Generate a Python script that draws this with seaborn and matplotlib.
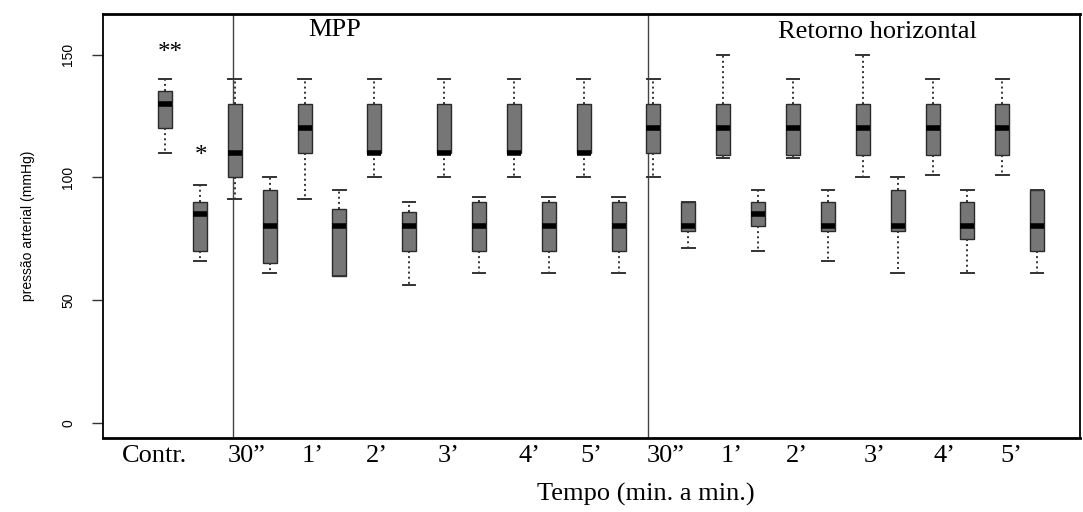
import numpy as np
import pandas as pd
import matplotlib
matplotlib.use("Agg")
import matplotlib.pyplot as plt
import seaborn as sns

# ---- data ----
time_labels = ["Contr.", "30\u201d", "1\u2019", "2\u2019", "3\u2019", "4\u2019", "5\u2019",
               "30\u201d", "1\u2019", "2\u2019", "3\u2019", "4\u2019", "5\u2019"]

# systolic boxes (upper set)
sys_lo  = [110, 91, 91, 100, 100, 100, 100, 100, 108, 108, 100, 101, 101]
sys_q1  = [120, 100, 110, 110, 110, 110, 110, 110, 109, 109, 109, 109, 109]
sys_med = [130, 110, 120, 110, 110, 110, 110, 120, 120, 120, 120, 120, 120]
sys_q3  = [135, 130, 130, 130, 130, 130, 130, 130, 130, 130, 130, 130, 130]
sys_hi  = [140, 140, 140, 140, 140, 140, 140, 140, 150, 140, 150, 140, 140]

# diastolic boxes (lower set)
dia_lo  = [66, 61, 60, 56, 61, 61, 61, 71, 70, 66, 61, 61, 61]
dia_q1  = [70, 65, 60, 70, 70, 70, 70, 78, 80, 78, 78, 75, 70]
dia_med = [85, 80, 80, 80, 80, 80, 80, 80, 85, 80, 80, 80, 80]
dia_q3  = [90, 95, 87, 86, 90, 90, 90, 90, 90, 90, 95, 90, 95]
dia_hi  = [97, 100, 95, 90, 92, 92, 92, 90, 95, 95, 100, 95, 95]

# tick label positions along the box axis (layout)
label_pos = [-0.29, 2.35, 4.24, 6.07, 8.14, 10.46, 12.23,
             14.34, 16.25, 18.10, 20.34, 22.35, 24.27]

# ---- long-format table: 5 values per box reproduce lo/q1/med/q3/hi exactly ----
rows = []
for i in range(len(time_labels)):
    for v in (sys_lo[i], sys_q1[i], sys_med[i], sys_q3[i], sys_hi[i]):
        rows.append((2 * i, v))
    for v in (dia_lo[i], dia_q1[i], dia_med[i], dia_q3[i], dia_hi[i]):
        rows.append((2 * i + 1, v))
df = pd.DataFrame(rows, columns=["box", "pressao"])
order = list(range(2 * len(time_labels)))

serif = "Liberation Serif"
sans = "Liberation Sans"

fig = plt.figure(figsize=(10.83, 5.12), dpi=100)
ax = fig.add_axes([0.095, 0.145, 0.902, 0.828])

sns.boxplot(data=df, x="box", y="pressao", order=order, whis=(0, 100),
            width=0.4, color="#767676", saturation=1, linecolor="#2a2a2a",
            linewidth=1.0, showfliers=False, ax=ax, capwidths=0.36,
            medianprops=dict(color="black", linewidth=4),
            whiskerprops=dict(linestyle=":", linewidth=1.4, color="#333333"),
            capprops=dict(linewidth=1.4, color="#333333"))

# group separators
ax.axvline(1.95, color="#444444", lw=1.0, zorder=0)
ax.axvline(13.85, color="#444444", lw=1.0, zorder=0)

ax.set_xlim(-1.78, 26.22)
ax.set_ylim(-6.1, 166.6)

ax.set_yticks([0, 50, 100, 150])
ax.set_yticklabels(["0", "50", "100", "150"], rotation=90, va="center",
                   fontsize=10, family=sans)
ax.tick_params(axis="y", length=8, width=1, pad=12, color="#333333")

ax.set_xticks(label_pos)
ax.set_xticklabels(time_labels, fontsize=19, family=serif)
ax.tick_params(axis="x", length=0, pad=5)

ax.set_xlabel("Tempo (min. a min.)", fontsize=19, family=serif, va="top")
ax.xaxis.set_label_coords(0.556, -0.107)
ax.set_ylabel("press\u00e3o arterial (mmHg)", fontsize=10, family=sans)
ax.yaxis.set_label_coords(-0.07, 0.5)

for s in ax.spines.values():
    s.set_visible(True)
    s.set_color("black")
    s.set_linewidth(1.3)
ax.spines["top"].set_linewidth(2.0)
ax.spines["bottom"].set_linewidth(2.0)

ax.text(4.87, 160, "MPP", fontsize=19, family=serif, ha="center", va="center")
ax.text(20.43, 159.3, "Retorno horizontal", fontsize=19, family=serif,
        ha="center", va="center")
ax.text(0.14, 150.5, "**", fontsize=18, family=serif, ha="center", va="center")
ax.text(1.03, 108.5, "*", fontsize=18, family=serif, ha="center", va="center")

fig.savefig("out.png", dpi=100)
